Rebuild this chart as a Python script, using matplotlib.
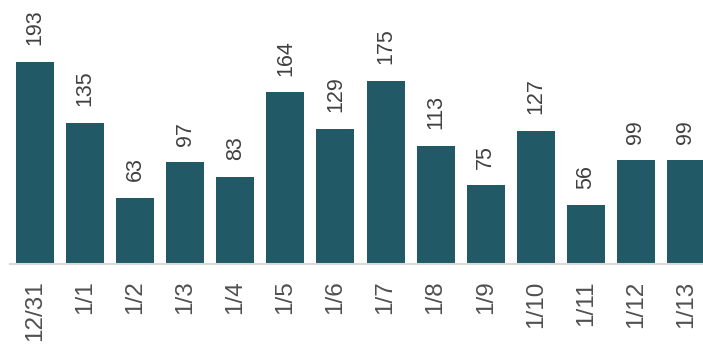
import matplotlib
matplotlib.use("Agg")
import matplotlib.pyplot as plt

categories = ["12/31", "1/1", "1/2", "1/3", "1/4", "1/5", "1/6", "1/7", "1/8", "1/9", "1/10", "1/11", "1/12", "1/13"]
values = [193, 135, 63, 97, 83, 164, 129, 175, 113, 75, 127, 56, 99, 99]

plt.rcParams['font.family'] = ['Liberation Sans', 'DejaVu Sans']

fig = plt.figure(figsize=(7.03, 3.48), dpi=100)
ax = fig.add_axes([10/703, 84/348, 693/703, 264/348])
x = list(range(len(categories)))
ax.bar(x, values, width=0.76, color="#225967", zorder=2)
ax.set_xlim(-0.5, 13.34)
ax.set_ylim(0, 252)
for xi, v in zip(x, values):
    ax.annotate(str(v), (xi, v), xytext=(0, 12), textcoords="offset points",
                rotation=90, ha="center", va="bottom", fontsize=15.5, color="#404040")
ax.set_xticks(x)
ax.set_xticklabels(categories, rotation=90, fontsize=17.5, color="#505050")
ax.tick_params(axis="x", length=0, pad=12)
ax.set_yticks([])
for s in ["top", "right", "left"]:
    ax.spines[s].set_visible(False)
ax.spines["bottom"].set_color("#d9d9d9")
ax.spines["bottom"].set_linewidth(1.5)
fig.savefig("out.png", dpi=100)
